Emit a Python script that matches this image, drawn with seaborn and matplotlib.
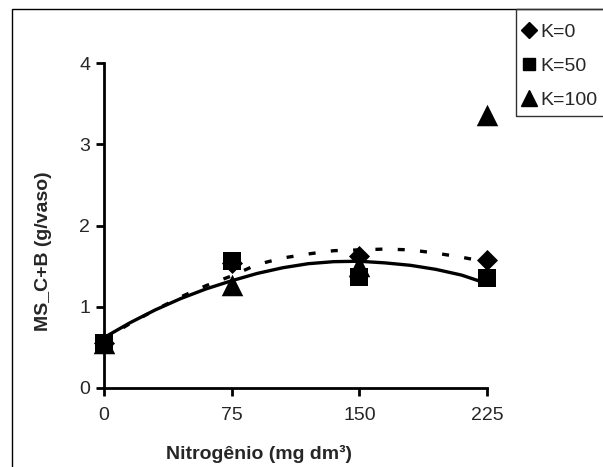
import pandas as pd
import numpy as np
import matplotlib
matplotlib.use("Agg")
import matplotlib.pyplot as plt
from matplotlib.lines import Line2D
from matplotlib.patches import Rectangle
import seaborn as sns

nitrogen = [0, 75, 150, 225]
k0 = [0.56, 1.54, 1.62, 1.57]
k50 = [0.55, 1.56, 1.37, 1.35]
k100 = [0.55, 1.27, 1.50, 3.36]

# fitted curves
n_fit = [0, 15, 30, 45, 60, 75, 90, 105, 120, 135, 150, 165, 180, 195, 210, 220]
fit_solid = [0.62, 0.80, 0.96, 1.10, 1.22, 1.32, 1.41, 1.48, 1.53, 1.555,
             1.56, 1.54, 1.51, 1.46, 1.39, 1.32]
fit_dashed = [0.60, 0.79, 0.96, 1.12, 1.26, 1.38, 1.52, 1.60, 1.65, 1.69,
              1.70, 1.71, 1.70, 1.66, 1.61, 1.57]

labels = ["K=0", "K=50", "K=100"]
markers = {"K=0": "D", "K=50": "s", "K=100": "^"}
sizes = {"K=0": 115, "K=50": 175, "K=100": 240}

sns.set_style("white")
plt.rcParams["font.family"] = ["Liberation Sans", "DejaVu Sans"]

df = pd.DataFrame({
    "N": nitrogen * 3,
    "MS": k0 + k50 + k100,
    "K": [labels[0]] * 4 + [labels[1]] * 4 + [labels[2]] * 4,
})
fits = pd.DataFrame({"N": n_fit, "solid": fit_solid, "dashed": fit_dashed})

fig = plt.figure(figsize=(6.03, 4.67), dpi=100)
ax = fig.add_axes([104 / 603, 1 - 388 / 467, 383 / 603, 325 / 467])

sns.lineplot(data=fits, x="N", y="dashed", ax=ax, color="black", lw=2.4,
             linestyle=(0, (2.1, 4.6)), zorder=2)
sns.lineplot(data=fits, x="N", y="solid", ax=ax, color="black", lw=2.4, zorder=2)

for lab in labels:
    sub = df[df["K"] == lab]
    sns.scatterplot(data=sub, x="N", y="MS", ax=ax, marker=markers[lab],
                    s=sizes[lab], color="black", edgecolor="black",
                    linewidth=0, zorder=3, clip_on=False, legend=False)

ax.set_xlim(0, 225)
ax.set_ylim(0, 4)
ax.set_xticks([0, 75, 150, 225])
ax.set_yticks([0, 1, 2, 3, 4])
for s in ["top", "right"]:
    ax.spines[s].set_visible(False)
for s in ["left", "bottom"]:
    ax.spines[s].set_linewidth(2)
    ax.spines[s].set_color("black")
ax.tick_params(axis="both", direction="out", length=6, width=2, color="black",
               labelsize=14, bottom=True, left=True)
ax.tick_params(axis="x", pad=8)
ax.tick_params(axis="y", pad=4)

ax.set_xlabel("Nitrogênio (mg dm³)", fontsize=14, fontweight="bold")
ax.set_ylabel("MS_C+B (g/vaso)", fontsize=14, fontweight="bold")
ax.xaxis.set_label_coords(0.405, -0.175)
ax.yaxis.set_label_coords(-0.135, 0.42)

# outer chart frame and legend box
fig.add_artist(Rectangle((12 / 603, -0.1), 1.0, 1.1 - 9 / 467, transform=fig.transFigure,
                         fill=False, lw=1, edgecolor="black"))
fig.add_artist(Rectangle((516 / 603, 1 - 116 / 467), 0.3, 107 / 467, transform=fig.transFigure,
                         fill=False, lw=1, edgecolor="#333333"))

handles = [Line2D([], [], marker=markers[l], color="black", linestyle="none",
                  markersize={"K=0": 8, "K=50": 9, "K=100": 11}[l]) for l in labels]
fig.legend(handles, labels, loc="upper left", bbox_to_anchor=(521 / 603, 1 - 23 / 467),
           frameon=False, fontsize=14, handlelength=0.8, handletextpad=0.2,
           labelspacing=0.85, borderaxespad=0, borderpad=0)

fig.savefig("out.png", dpi=100)
